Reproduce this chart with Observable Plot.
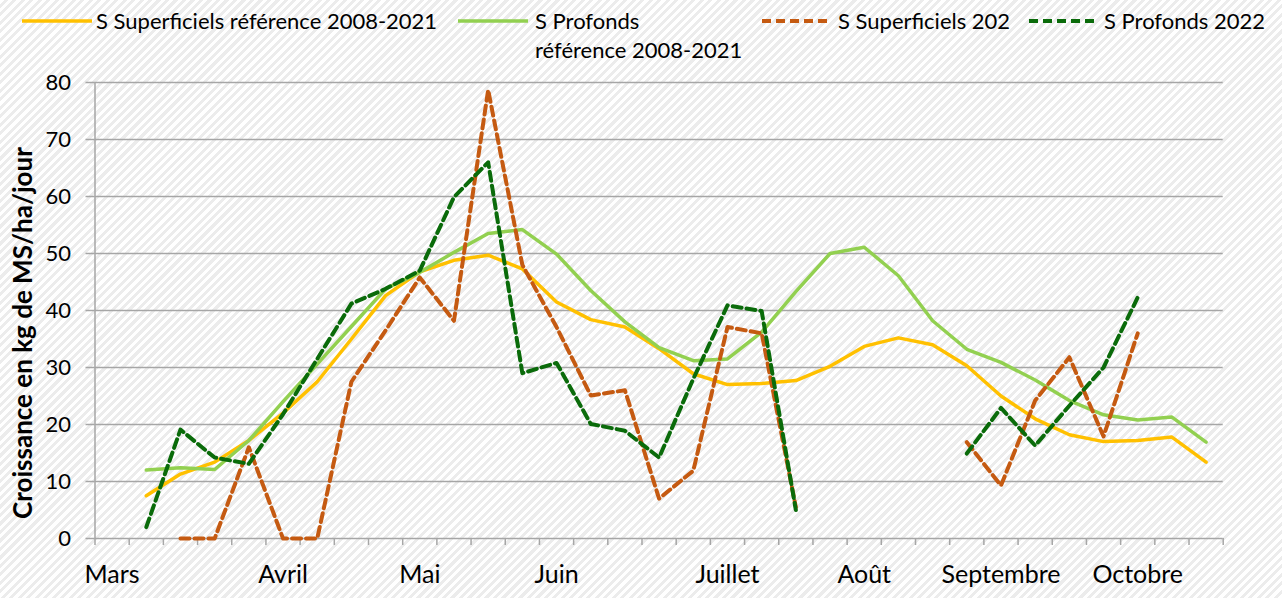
<!DOCTYPE html>
<html><head><meta charset="utf-8">
<script src="https://cdn.jsdelivr.net/npm/d3@7"></script>
<script src="https://cdn.jsdelivr.net/npm/@observablehq/plot@0.6"></script>
<style>
html,body{margin:0;padding:0;}
body{width:1282px;height:598px;overflow:hidden;position:relative;font-family:Lato,"Open Sans",sans-serif;color:#000;
background:repeating-linear-gradient(135deg,#ffffff 0 3px,#ececec 3px 6px);}
#chart{position:absolute;left:0;top:0;}
.leg{position:absolute;font-size:22px;line-height:29px;white-space:nowrap;}
.sw{position:absolute;}
#ytitle{position:absolute;left:22px;top:333px;transform:translate(-50%,-50%) rotate(-90deg);font-weight:bold;font-size:26px;white-space:nowrap;}
</style></head>
<body>
<div id="chart"></div>
<div id="legend"></div>
<div id="ytitle">Croissance en kg de MS/ha/jour</div>
<script>
// Weekly categories (index 0 = first week of March)
const weeks = d3.range(33);
const monthLabels = ["Mars","","","","","Avril","","","","Mai","","","","Juin","","","","","Juillet","","","","Août","","","","Septembre","","","","Octobre","",""];
const yTicks = [0,10,20,30,40,50,60,70,80];

const superfRef = [null,7.5,11.3,13.4,17.2,22,27.5,35,42.6,46.8,48.8,49.7,47.3,41.5,38.4,37.1,33.3,28.9,27.0,27.2,27.7,30.2,33.7,35.2,34.0,30.3,25.0,21.0,18.2,17.0,17.2,17.8,13.4];
const profRef = [null,12.0,12.4,12.1,17.2,24,30.6,37.2,43.8,46.7,50.2,53.5,54.2,49.9,43.5,38,33.5,31.2,31.5,36.2,43.3,50.0,51.1,46.1,38.2,33.2,30.9,27.8,24.2,21.7,20.8,21.3,16.9];
const superf2022 = [null,null,0,0,16,0,0,27.5,36.5,45.8,38.2,78.7,48,37.1,25.1,26.0,7.0,11.9,37.1,36.0,5.5,null,null,null,null,16.9,9.3,24.2,31.8,17.9,36,null,null];
const prof2022 = [null,2.0,19.1,14.2,13.1,21.8,31.5,41.2,43.8,47,59.9,66.0,29,30.8,20.1,18.9,14.2,28,40.9,39.9,5.0,null,null,null,null,14.9,22.9,16.3,23.3,30.0,42.3,null,null];

const series = [
  {name:"S Superficiels référence 2008-2021", values:superfRef, color:"#FFC000", dash:null},
  {name:"S Profonds\nréférence 2008-2021", values:profRef, color:"#92D050", dash:null},
  {name:"S Superficiels 202", values:superf2022, color:"#C55A11", dash:"9,5"},
  {name:"S Profonds 2022", values:prof2022, color:"#0A6B0A", dash:"9,5"}
];

const boundaries = d3.range(34).map(k => k - 0.5);
const gridColor = "#a6a6a6";

const chart = Plot.plot({
  width: 1282, height: 598,
  marginLeft: 94.5, marginRight: 59.3, marginTop: 82, marginBottom: 60,
  style: {background: "transparent", fontFamily: "Lato, 'Open Sans', sans-serif", fontSize: "22px", color: "#000", overflow: "visible"},
  x: {type: "linear", domain: [-0.5, 32.5]},
  y: {domain: [0, 80]},
  marks: [
    Plot.gridY(yTicks, {stroke: gridColor, strokeOpacity: 1, strokeWidth: 1.5}),
    Plot.axisY(yTicks, {tickSize: 9, tickPadding: 15, stroke: gridColor, strokeWidth: 1.5, label: null, fontSize: 22}),
    Plot.ruleX([-0.5], {stroke: gridColor, strokeWidth: 1.5}),
    Plot.axisX(boundaries, {tickSize: 7, tickFormat: () => "", stroke: gridColor, strokeWidth: 1.5, label: null}),
    Plot.axisX(weeks.filter(i => monthLabels[i]), {tickSize: 0, tickPadding: 27, tickFormat: i => monthLabels[i], label: null, fontSize: 25}),
    ...series.map(s => Plot.line(weeks, {
      x: i => i, y: i => s.values[i], stroke: s.color,
      strokeWidth: s.dash ? 4 : 3.5, strokeDasharray: s.dash ?? undefined,
      strokeLinejoin: "round"
    }))
  ]
});
document.getElementById("chart").appendChild(chart);

// Legend
const legPos = [
  {sx: 22, tx: 96},
  {sx: 458, tx: 535},
  {sx: 762, tx: 838},
  {sx: 1029, tx: 1104}
];
const leg = document.getElementById("legend");
series.forEach((s, k) => {
  const p = legPos[k];
  const sw = document.createElementNS("http://www.w3.org/2000/svg", "svg");
  sw.setAttribute("class", "sw");
  sw.setAttribute("width", 70); sw.setAttribute("height", 10);
  sw.style.left = p.sx + "px"; sw.style.top = "16px";
  const ln = document.createElementNS("http://www.w3.org/2000/svg", "line");
  ln.setAttribute("x1", 0); ln.setAttribute("x2", 70);
  ln.setAttribute("y1", 5); ln.setAttribute("y2", 5);
  ln.setAttribute("stroke", s.color);
  ln.setAttribute("stroke-width", s.dash ? 4 : 3.5);
  if (s.dash) ln.setAttribute("stroke-dasharray", s.dash);
  sw.appendChild(ln);
  leg.appendChild(sw);
  const t = document.createElement("div");
  t.className = "leg";
  t.style.left = p.tx + "px"; t.style.top = "6px";
  t.innerHTML = s.name.split("\n").join("<br>");
  leg.appendChild(t);
});
</script>
</body></html>
